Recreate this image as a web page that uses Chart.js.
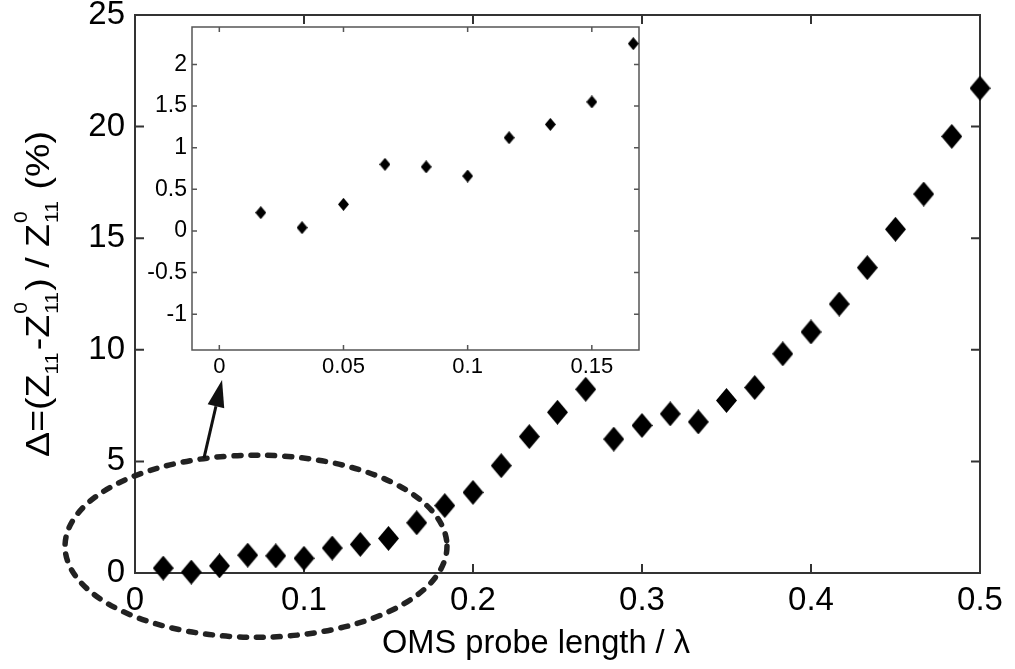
<!DOCTYPE html>
<html><head><meta charset="utf-8">
<script src="https://cdn.jsdelivr.net/npm/chart.js@4.4.1/dist/chart.umd.min.js"></script>
<style>
html,body{margin:0;padding:0;background:#fff;}
#wrap{position:relative;width:1015px;height:669px;overflow:hidden;background:#fff;}
#main{position:absolute;left:0;top:0;}
#inset{position:absolute;left:130px;top:15px;}
</style></head><body>
<div id="wrap"><canvas id="main" width="1015" height="669"></canvas><canvas id="inset" width="520" height="365"></canvas></div>
<script>
// ---- data ----
const probeLength = [0.0167,0.0333,0.05,0.0667,0.0833,0.1,0.1167,0.1333,0.15,0.1667,0.1833,0.2,0.2167,0.2333,0.25,0.2667,0.2833,0.3,0.3167,0.3333,0.35,0.3667,0.3833,0.4,0.4167,0.4333,0.45,0.4667,0.4833,0.5];
const deltaPct = [0.22,0.04,0.32,0.80,0.77,0.66,1.12,1.28,1.55,2.25,3.02,3.61,4.81,6.11,7.20,8.23,6.00,6.61,7.13,6.77,7.73,8.31,9.82,10.80,12.05,13.68,15.40,16.98,19.56,21.72];
const insetLength = [0.0167,0.0333,0.05,0.0667,0.0833,0.1,0.1167,0.1333,0.15,0.1667];
const insetDelta = [0.22,0.04,0.32,0.80,0.77,0.66,1.12,1.28,1.55,2.25];
const mainXTicks = [0,0.1,0.2,0.3,0.4,0.5];
const mainXTickLabels = ['0','0.1','0.2','0.3','0.4','0.5'];
const mainYTicks = [0,5,10,15,20,25];
const mainYTickLabels = ['0','5','10','15','20','25'];
const insetXTicks = [0,0.05,0.1,0.15];
const insetXTickLabels = ['0','0.05','0.1','0.15'];
const insetYTicks = [-1,-0.5,0,0.5,1,1.5,2];
const insetYTickLabels = ['-1','-0.5','0','0.5','1','1.5','2'];
const xTitle = 'OMS probe length / \u03BB';

Chart.defaults.font.family = '"Liberation Sans", Arial, Helvetica, sans-serif';
Chart.defaults.color = '#000';

function diamond(w,h){
  const c=document.createElement('canvas');c.width=w;c.height=h;
  const g=c.getContext('2d');g.fillStyle='#000';g.beginPath();
  g.moveTo(w/2,0);g.lineTo(w,h/2);g.lineTo(w/2,h);g.lineTo(0,h/2);g.closePath();g.fill();
  return c;
}

const framePlugin = {
  id:'frame',
  beforeDatasetsDraw(chart, args, o){
    const {ctx, chartArea:a, scales} = chart;
    ctx.save();
    ctx.strokeStyle=o.color; ctx.lineWidth=o.width;
    ctx.strokeRect(a.left,a.top,a.right-a.left,a.bottom-a.top);
    ctx.beginPath();
    const L=o.tick;
    scales.x.ticks.forEach(t=>{const p=scales.x.getPixelForValue(t.value);
      ctx.moveTo(p,a.bottom);ctx.lineTo(p,a.bottom-L);ctx.moveTo(p,a.top);ctx.lineTo(p,a.top+L);});
    scales.y.ticks.forEach(t=>{const p=scales.y.getPixelForValue(t.value);
      ctx.moveTo(a.left,p);ctx.lineTo(a.left+L,p);ctx.moveTo(a.right,p);ctx.lineTo(a.right-L,p);});
    ctx.stroke();
    ctx.restore();
  }
};

const annot = {
  ellipseCenter:{x:0.0716,y:1.2}, ellipseRadius:{x:0.113,y:4.08},
  arrowFrom:{x:0.0408,y:5.15}, arrowTo:{x:0.0515,y:8.65}
};

const annotPlugin = {
  id:'annot',
  afterDraw(chart){
    const {ctx, scales:{x,y}} = chart;
    ctx.save();
    const cx=x.getPixelForValue(annot.ellipseCenter.x), cy=y.getPixelForValue(annot.ellipseCenter.y);
    const rx=x.getPixelForValue(annot.ellipseCenter.x+annot.ellipseRadius.x)-cx;
    const ry=cy-y.getPixelForValue(annot.ellipseCenter.y+annot.ellipseRadius.y);
    ctx.strokeStyle='#222'; ctx.lineWidth=5.5; ctx.lineCap='round'; ctx.setLineDash([7,10]);
    ctx.beginPath(); ctx.ellipse(cx,cy,rx,ry,0,0,Math.PI*2); ctx.stroke();
    ctx.setLineDash([]); ctx.lineCap='butt';
    const x1=x.getPixelForValue(annot.arrowFrom.x), y1=y.getPixelForValue(annot.arrowFrom.y);
    const x2=x.getPixelForValue(annot.arrowTo.x), y2=y.getPixelForValue(annot.arrowTo.y);
    const ang=Math.atan2(y2-y1,x2-x1), hl=27, hw=8.5;
    const bx=x2-hl*Math.cos(ang), by=y2-hl*Math.sin(ang);
    ctx.lineWidth=3; ctx.strokeStyle='#111';
    ctx.beginPath(); ctx.moveTo(x1,y1); ctx.lineTo(bx,by); ctx.stroke();
    ctx.fillStyle='#111'; ctx.beginPath(); ctx.moveTo(x2,y2);
    ctx.lineTo(bx+hw*Math.sin(ang), by-hw*Math.cos(ang));
    ctx.lineTo(bx-hw*Math.sin(ang), by+hw*Math.cos(ang)); ctx.closePath(); ctx.fill();
    ctx.restore();

    ctx.save();
    ctx.fillStyle='#000';
    ctx.font='34px "Liberation Sans", Arial, sans-serif';
    ctx.textBaseline='alphabetic'; ctx.textAlign='left';
    const wx=ctx.measureText(xTitle).width, targetW=308;
    ctx.save(); ctx.translate(536-targetW/2,653); ctx.scale(targetW/wx,1); ctx.fillText(xTitle,0,0); ctx.restore();
    const big='34px "Liberation Sans", Arial, sans-serif', small='19px "Liberation Sans", Arial, sans-serif';
    const parts=[
      {t:'\u0394=(Z',f:big,dy:0},
      {t:'11',f:small,dy:9},
      {t:'-Z',f:big,dy:0},
      {sup:'0',sub:'11'},
      {t:') / Z',f:big,dy:0},
      {sup:'0',sub:'11'},
      {t:' (%)',f:big,dy:0}
    ];
    let total=0; const widths=[];
    parts.forEach(p=>{
      let w;
      if(p.sup!==undefined){ctx.font=small; w=Math.max(ctx.measureText(p.sup).width,ctx.measureText(p.sub).width)+2;}
      else {ctx.font=p.f; w=ctx.measureText(p.t).width+(p.f===small?2:0);}
      widths.push(w); total+=w;
    });
    const targetL=326;
    ctx.translate(49,294); ctx.rotate(-Math.PI/2); ctx.scale(targetL/total,1);
    let pos=-total/2;
    parts.forEach((p,i)=>{
      if(p.sup!==undefined){ctx.font=small; ctx.fillText(p.sup,pos+1,-22); ctx.fillText(p.sub,pos+1,9);}
      else {ctx.font=p.f; ctx.fillText(p.t,pos,p.dy);}
      pos+=widths[i];
    });
    ctx.restore();
  }
};

const mainChart = new Chart(document.getElementById('main'), {
  type:'scatter',
  data:{datasets:[{data:probeLength.map((v,i)=>({x:v,y:deltaPct[i]})), pointStyle:diamond(21,25), clip:false, showLine:false}]},
  options:{
    responsive:false, animation:false, events:[],
    layout:{autoPadding:false, padding:{top:15,right:35,left:0,bottom:0}},
    plugins:{legend:{display:false},tooltip:{enabled:false},frame:{color:'#333',width:2,tick:9}},
    scales:{
      x:{type:'linear',min:0,max:0.5,
        afterBuildTicks:s=>{s.ticks=mainXTicks.map(v=>({value:v}));},
        afterFit:s=>{s.height=96;},
        grid:{display:false,drawTicks:false}, border:{display:false},
        ticks:{font:{size:33,lineHeight:1},padding:11,maxRotation:0,autoSkip:false,callback:(v,i)=>mainXTickLabels[i]}},
      y:{type:'linear',min:0,max:25,
        afterBuildTicks:s=>{s.ticks=mainYTicks.map(v=>({value:v}));},
        afterFit:s=>{s.width=135; s.paddingTop=0; s.paddingBottom=0;},
        grid:{display:false,drawTicks:false}, border:{display:false},
        ticks:{font:{size:33,lineHeight:0.5},padding:10,autoSkip:false,callback:(v,i)=>mainYTickLabels[i]}}
    }
  },
  plugins:[framePlugin, annotPlugin]
});

const insetChart = new Chart(document.getElementById('inset'), {
  type:'scatter',
  data:{datasets:[{data:insetLength.map((v,i)=>({x:v,y:insetDelta[i]})), pointStyle:diamond(11,13), clip:false, showLine:false}]},
  options:{
    responsive:false, animation:false, events:[],
    layout:{autoPadding:false, padding:{top:12,right:11,left:0,bottom:0}},
    plugins:{legend:{display:false},tooltip:{enabled:false},frame:{color:'#555',width:1.5,tick:5}},
    scales:{
      x:{type:'linear',min:-0.011,max:0.169,
        afterBuildTicks:s=>{s.ticks=insetXTicks.map(v=>({value:v}));},
        afterFit:s=>{s.height=30;},
        grid:{display:false,drawTicks:false}, border:{display:false},
        ticks:{font:{size:22,lineHeight:1},padding:6,maxRotation:0,autoSkip:false,callback:(v,i)=>insetXTickLabels[i]}},
      y:{type:'linear',min:-1.43,max:2.45,
        afterBuildTicks:s=>{s.ticks=insetYTicks.map(v=>({value:v}));},
        afterFit:s=>{s.width=62; s.paddingTop=0; s.paddingBottom=0;},
        grid:{display:false,drawTicks:false}, border:{display:false},
        ticks:{font:{size:23,lineHeight:0.5},padding:5,autoSkip:false,callback:(v,i)=>insetYTickLabels[i]}}
    }
  },
  plugins:[framePlugin]
});
</script>
</body></html>
